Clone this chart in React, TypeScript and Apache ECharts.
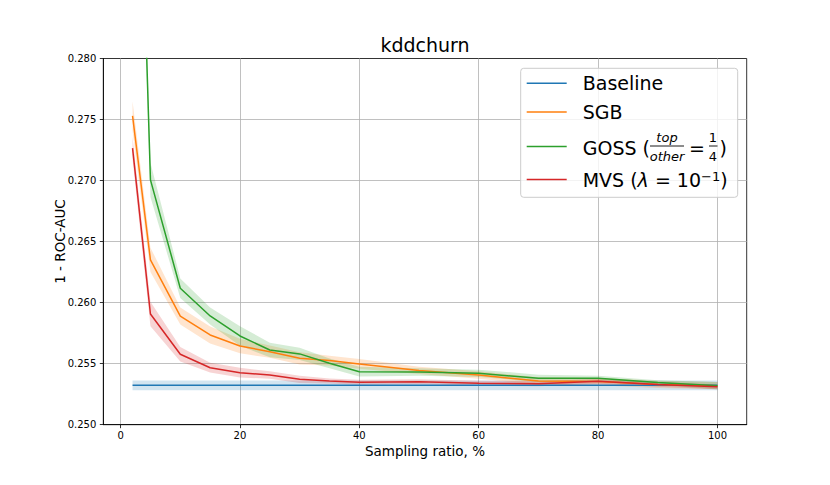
import React, { useEffect, useRef } from "react";
import * as echarts from "echarts";

// Sampling ratios (%)
const ratios = [2, 5, 10, 15, 20, 25, 30, 35, 40, 50, 60, 70, 80, 90, 100];

// 1 - ROC-AUC mean values
const baseline = [0.25323, 0.25323, 0.25323, 0.25323, 0.25323, 0.25323, 0.25323, 0.25323, 0.25323, 0.25323, 0.25323, 0.25323, 0.25323, 0.25323, 0.25323];
const sgb = [0.2753, 0.2635, 0.2589, 0.25735, 0.25645, 0.25598, 0.25544, 0.25525, 0.25498, 0.25445, 0.25407, 0.25358, 0.25353, 0.2533, 0.2532];
const goss = [0.318, 0.27006, 0.26118, 0.25891, 0.25727, 0.25612, 0.2558, 0.25503, 0.25434, 0.25432, 0.25421, 0.2538, 0.2538, 0.25345, 0.2532];
const mvs = [0.27266, 0.25907, 0.25577, 0.25467, 0.25426, 0.25407, 0.25372, 0.25358, 0.25348, 0.25352, 0.2534, 0.25336, 0.25355, 0.2533, 0.2531];

// half-widths of the shaded bands
const baselineErr = [0.0004, 0.0004, 0.0004, 0.0004, 0.0004, 0.0004, 0.0004, 0.0004, 0.0004, 0.0004, 0.0004, 0.0004, 0.0004, 0.0004, 0.0004];
const sgbErr = [0.0012, 0.001, 0.0007, 0.0007, 0.0006, 0.0005, 0.0005, 0.0004, 0.0004, 0.0003, 0.0003, 0.0003, 0.0003, 0.0003, 0.0003];
const gossErr = [0.002, 0.0014, 0.0008, 0.0007, 0.0008, 0.0006, 0.0005, 0.0004, 0.0004, 0.0003, 0.0003, 0.0003, 0.0002, 0.0002, 0.0003];
const mvsErr = [0.0009, 0.001, 0.0006, 0.0004, 0.0004, 0.0003, 0.0003, 0.0002, 0.0002, 0.0002, 0.0002, 0.0002, 0.0002, 0.0002, 0.0002];

const xTicks = [0, 20, 40, 60, 80, 100];

const FONT = "DejaVu Sans";
const C_BLUE = "#1f77b4";
const C_ORANGE = "#ff7f0e";
const C_GREEN = "#2ca02c";
const C_RED = "#d62728";

function seriesFor(name: string, vals: number[], errs: number[], color: string) {
  const n = ratios.length;
  return [
    {
      name,
      type: "line",
      data: ratios.map((x, i) => [x, vals[i]]),
      symbol: "none",
      lineStyle: { color, width: 1.5 },
      itemStyle: { color },
      clip: true,
      silent: true,
    },
    {
      name: name + "_band",
      type: "custom",
      data: ratios.map((x, i) => [x, vals[i] - errs[i], vals[i] + errs[i]]),
      silent: true,
      clip: true,
      encode: { x: 0, y: [1, 2] },
      renderItem: (params: any, api: any) => {
        if (params.dataIndexInside !== 0) return null;
        const upper: number[][] = [];
        const lower: number[][] = [];
        for (let i = 0; i < n; i++) {
          const x = api.value(0, i);
          upper.push(api.coord([x, api.value(2, i)]));
          lower.push(api.coord([x, api.value(1, i)]));
        }
        const pts = upper.concat(lower.reverse());
        const cs = params.coordSys;
        return {
          type: "polygon",
          shape: { points: pts },
          style: { fill: color, opacity: 0.2 },
          clipPath: { type: "rect", shape: { x: cs.x, y: cs.y, width: cs.width, height: cs.height } },
        };
      },
    },
  ];
}

export default function App() {
  const ref = useRef<HTMLDivElement>(null);
  useEffect(() => {
    document.body.style.margin = "0";
    if (!ref.current) return;
    const chart = echarts.init(ref.current, undefined, { renderer: "svg" });
    const legendX = 520.7;
    const legendY = 68.3;
    const lineX1 = 526.7;
    const lineX2 = 566.7;
    const textX = 582.7;
    const rows = [83.3, 112, 146.5, 179.5];
    const legendFont = 19;
    const option: any = {
      animation: false,
      backgroundColor: "#ffffff",
      grid: {
        left: 103.3,
        right: 83.3,
        top: 58.5,
        bottom: 60.3,
        show: true,
        borderColor: "#000000",
        borderWidth: 0.8,
        backgroundColor: "transparent",
      },
      xAxis: {
        type: "value",
        min: -2.9,
        max: 104.9,
        axisLine: { show: true, onZero: false, lineStyle: { color: "#000", width: 0.8 } },
        axisTick: { show: true, length: 3.5, lineStyle: { color: "#000", width: 0.8 }, customValues: xTicks },
        axisLabel: {
          customValues: xTicks,
          color: "#000",
          fontFamily: FONT,
          fontSize: 10,
          margin: 6,
        },
        splitLine: { show: true, lineStyle: { color: "#b0b0b0", width: 0.8 } },
      },
      yAxis: {
        type: "value",
        min: 0.25,
        max: 0.28,
        interval: 0.005,
        axisLine: { show: true, onZero: false, lineStyle: { color: "#000", width: 0.8 } },
        axisTick: { show: true, length: 3.5, lineStyle: { color: "#000", width: 0.8 } },
        axisLabel: {
          color: "#000",
          fontFamily: FONT,
          fontSize: 10,
          margin: 7,
          formatter: (v: number) => v.toFixed(3),
        },
        splitLine: { show: true, showMinLine: false, showMaxLine: false, lineStyle: { color: "#b0b0b0", width: 0.8 } },
      },
      series: [
        ...seriesFor("Baseline", baseline, baselineErr, C_BLUE),
        ...seriesFor("SGB", sgb, sgbErr, C_ORANGE),
        ...seriesFor("GOSS", goss, gossErr, C_GREEN),
        ...seriesFor("MVS", mvs, mvsErr, C_RED),
      ],
      graphic: [
        {
          type: "text",
          x: 425,
          y: 44.5,
          style: { text: "kddchurn", fontFamily: FONT, fontSize: 19, fill: "#000", textAlign: "center", textVerticalAlign: "middle" },
        },
        {
          type: "text",
          x: 425,
          y: 450.5,
          style: { text: "Sampling ratio, %", fontFamily: FONT, fontSize: 13.5, fill: "#000", textAlign: "center", textVerticalAlign: "middle" },
        },
        {
          type: "text",
          x: 59.5,
          y: 241.5,
          rotation: Math.PI / 2,
          style: { text: "1 - ROC-AUC", fontFamily: FONT, fontSize: 13.5, fill: "#000", textAlign: "center", textVerticalAlign: "middle" },
        },
        {
          type: "rect",
          z: 100,
          shape: { x: legendX, y: legendY, width: 217, height: 129, r: 3 },
          style: { fill: "rgba(255,255,255,0.8)", stroke: "#cccccc", lineWidth: 1 },
        },
        ...[C_BLUE, C_ORANGE, C_GREEN, C_RED].map((c, i) => ({
          type: "line",
          z: 101,
          shape: { x1: lineX1, y1: rows[i], x2: lineX2, y2: rows[i] },
          style: { stroke: c, lineWidth: 1.5 },
        })),
        {
          type: "text",
          z: 101,
          x: textX,
          y: rows[0],
          style: { text: "Baseline", fontFamily: FONT, fontSize: legendFont, fill: "#000", textAlign: "left", textVerticalAlign: "middle" },
        },
        {
          type: "text",
          z: 101,
          x: textX,
          y: rows[1],
          style: { text: "SGB", fontFamily: FONT, fontSize: legendFont, fill: "#000", textAlign: "left", textVerticalAlign: "middle" },
        },
        {
          type: "text",
          z: 101,
          x: textX,
          y: rows[2] + 1,
          style: { text: "GOSS (", fontFamily: FONT, fontSize: legendFont, fill: "#000", textAlign: "left", textVerticalAlign: "middle" },
        },
        {
          type: "text",
          z: 101,
          x: 667,
          y: 137,
          style: { text: "top", fontFamily: FONT, fontStyle: "italic", fontSize: 13, fill: "#000", textAlign: "center", textVerticalAlign: "middle" },
        },
        {
          type: "line",
          z: 101,
          shape: { x1: 650, y1: 146, x2: 684, y2: 146 },
          style: { stroke: "#000", lineWidth: 0.9 },
        },
        {
          type: "text",
          z: 101,
          x: 667,
          y: 156,
          style: { text: "other", fontFamily: FONT, fontStyle: "italic", fontSize: 13, fill: "#000", textAlign: "center", textVerticalAlign: "middle" },
        },
        {
          type: "text",
          z: 101,
          x: 697,
          y: rows[2] + 1,
          style: { text: "=", fontFamily: FONT, fontSize: legendFont, fill: "#000", textAlign: "center", textVerticalAlign: "middle" },
        },
        {
          type: "text",
          z: 101,
          x: 713,
          y: 137,
          style: { text: "1", fontFamily: FONT, fontSize: 13, fill: "#000", textAlign: "center", textVerticalAlign: "middle" },
        },
        {
          type: "line",
          z: 101,
          shape: { x1: 709, y1: 146, x2: 717.5, y2: 146 },
          style: { stroke: "#000", lineWidth: 0.9 },
        },
        {
          type: "text",
          z: 101,
          x: 713,
          y: 156,
          style: { text: "4", fontFamily: FONT, fontSize: 13, fill: "#000", textAlign: "center", textVerticalAlign: "middle" },
        },
        {
          type: "text",
          z: 101,
          x: 719.5,
          y: rows[2] + 1,
          style: { text: ")", fontFamily: FONT, fontSize: legendFont, fill: "#000", textAlign: "left", textVerticalAlign: "middle" },
        },
        {
          type: "text",
          z: 101,
          x: textX,
          y: rows[3],
          style: {
            text: "{n|MVS (}{i|λ}{n| = 10}{s|−1}{n|)}",
            textAlign: "left",
            textVerticalAlign: "middle",
            rich: {
              n: { fontFamily: FONT, fontSize: legendFont, fill: "#000" },
              i: { fontFamily: FONT, fontSize: legendFont, fontStyle: "italic", fill: "#000" },
              s: { fontFamily: FONT, fontSize: 13, fill: "#000", verticalAlign: "top" },
            },
          },
        },
      ],
    };
    chart.setOption(option);
    return () => chart.dispose();
  }, []);
  return <div ref={ref} style={{ width: 830, height: 485 }} />;
}
